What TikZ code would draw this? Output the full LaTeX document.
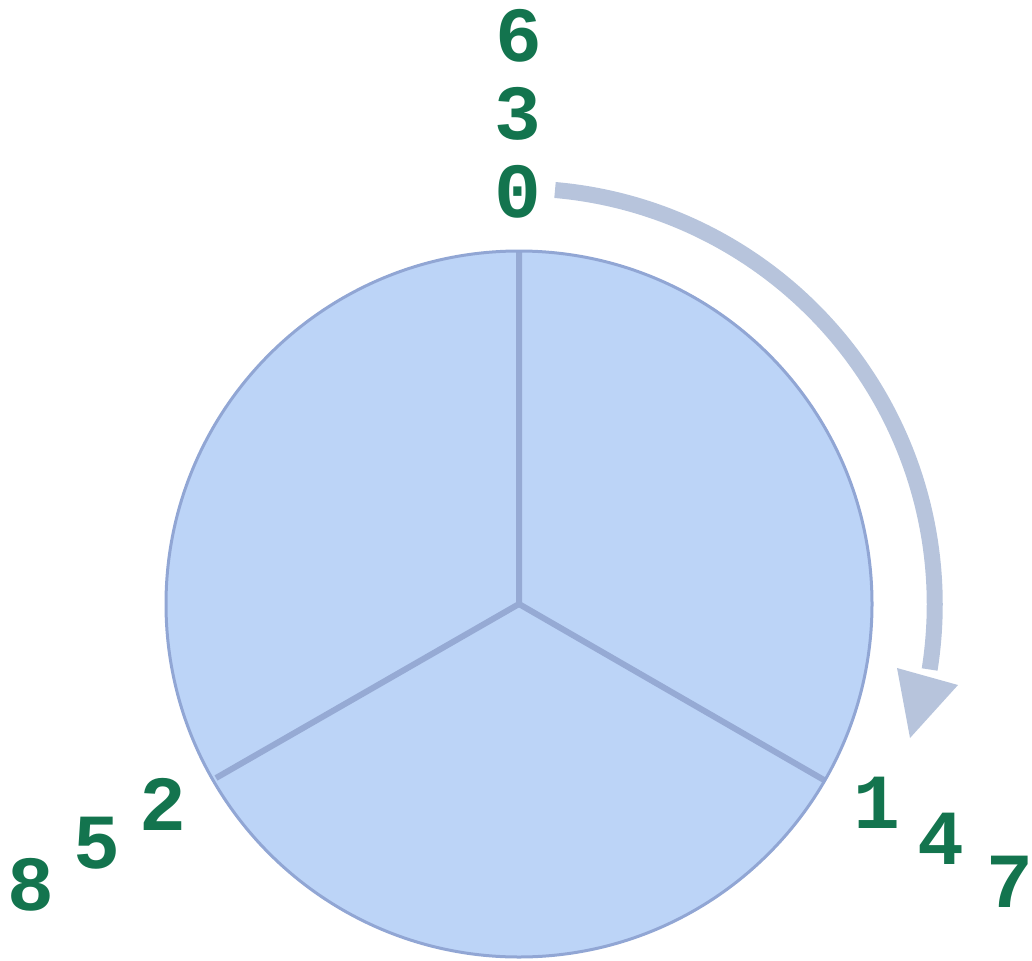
\documentclass[tikz,border=0pt]{standalone}
\usepackage{fontspec}
\newfontfamily\dgfont{Liberation Mono}
\definecolor{wedge}{RGB}{188,212,247}
\definecolor{rim}{RGB}{145,166,212}
\definecolor{spoke}{RGB}{150,170,212}
\definecolor{arrowc}{RGB}{183,196,220}
\definecolor{digitc}{RGB}{19,116,78}
\begin{document}
\begin{tikzpicture}[x=1pt,y=-1pt,
  digit/.style={anchor=base,inner sep=0pt,text=digitc,font=\dgfont\bfseries\fontsize{78}{80}\selectfont}]
\useasboundingbox (0,0) rectangle (1032,960);
\coordinate (c) at (519,604);
\coordinate (top) at (519,251);
\coordinate (br) at (824,780);
\coordinate (bl) at (216,778);
\fill[wedge] (c) circle[radius=353];
\draw[spoke,line width=6pt] (top) -- (c) -- (br) (c) -- (bl);
\draw[rim,line width=3pt] (c) circle[radius=353];
% arrow
\draw[arrowc,line width=16pt] (555,190) arc[start angle=-85,end angle=9,radius=416];
\fill[arrowc] (897,668) -- (958,685) -- (910,738) -- cycle;
% digits
\node[digit] (d0) at (518,217) {0};
\node[digit] (d3) at (518,140) {3};
\node[digit] (d6) at (519,62) {6};
\node[digit] (d1) at (877,828) {1};
\node[digit] (d4) at (941,864) {4};
\node[digit] (d7) at (1010,907) {7};
\node[digit] (d2) at (163,830) {2};
\node[digit] (d5) at (97,868) {5};
\node[digit] (d8) at (31,910) {8};
\end{tikzpicture}
\end{document}
